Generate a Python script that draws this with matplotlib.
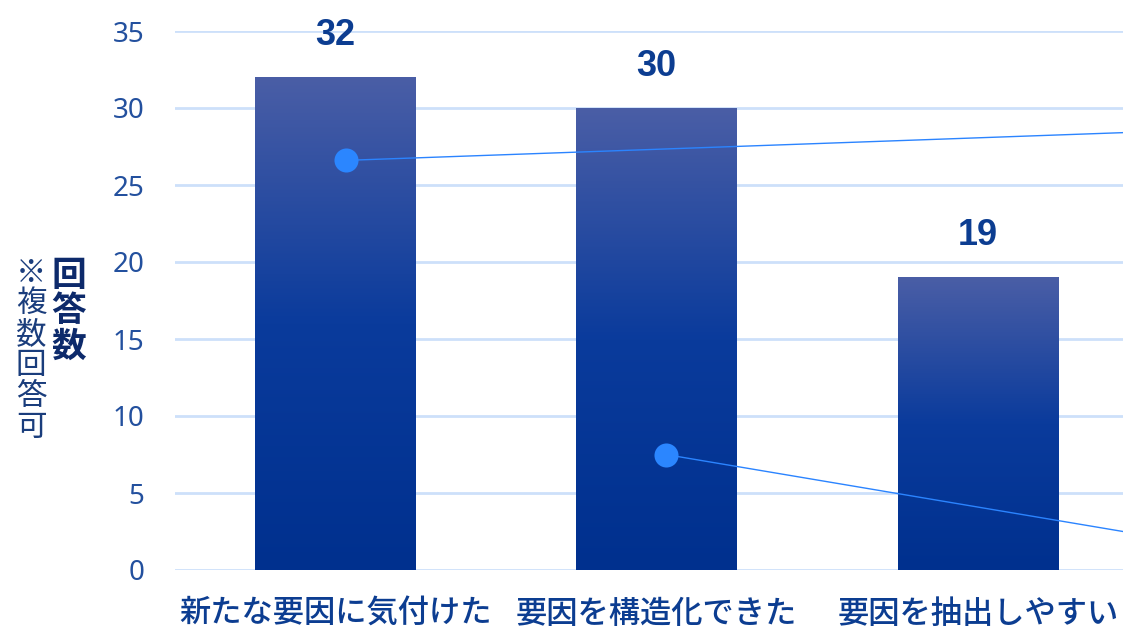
import numpy as np
import matplotlib
matplotlib.use("Agg")
import matplotlib.pyplot as plt
from matplotlib.colors import LinearSegmentedColormap

plt.rcParams['font.family'] = ['Noto Sans CJK JP', 'DejaVu Sans']

# data
categories = ['新たな要因に気付けた', '要因を構造化できた', '要因を抽出しやすい']
counts = [32, 30, 19]
yticks = [0, 5, 10, 15, 20, 25, 30, 35]

# leftover callout markers (dot position -> line end at right edge)
dot_x = [0.034, 1.028]
dot_y = [26.6, 7.5]
end_y = [28.4, 2.5]

tick_col = '#23509e'
text_col = '#0c3d91'

fig = plt.figure(figsize=(11.23, 6.33), dpi=100)
ax = fig.add_axes([175 / 1123, 1 - 570 / 633, (1123 - 175) / 1123, 539 / 633])

xmax = 2.452
ax.set_xlim(-0.5, xmax)
ax.set_ylim(0, 35)

cmap = LinearSegmentedColormap.from_list('bar', ['#00308e', '#0a3b9c', '#4a5ea6'])
grad = np.linspace(0, 1, 256).reshape(-1, 1)
w = 0.5
for i, v in enumerate(counts):
    ax.imshow(grad, extent=[i - w / 2, i + w / 2, 0, v], origin='lower',
              aspect='auto', cmap=cmap, zorder=2, interpolation='bicubic')
    ax.text(i, v + 2.7, str(v), ha='center', va='center', fontsize=26,
            fontweight='bold', color=text_col, zorder=4,
            family=['Liberation Sans', 'DejaVu Sans'])

for xd, yd, ye in zip(dot_x, dot_y, end_y):
    ax.plot([xd, xmax], [yd, ye], color='#2b84ff', lw=1, zorder=3, clip_on=False)
    ax.scatter([xd], [yd], s=300, color='#2b86ff', zorder=4, linewidths=0)

ax.set_yticks(yticks)
ax.set_xticks(range(len(categories)))
ax.set_xticklabels(categories, fontsize=22.5, color=text_col, fontweight='medium')
ax.tick_params(axis='y', length=0, pad=22, labelsize=20, labelcolor=tick_col)
ax.tick_params(axis='x', length=0, pad=20)
for lbl in ax.get_yticklabels():
    lbl.set_fontfamily(['Noto Sans', 'DejaVu Sans'])
ax.grid(axis='y', color='#cde0fa', lw=2)
ax.set_axisbelow(True)
for s in ax.spines.values():
    s.set_visible(False)

fig.text(69 / 1123, 1 - 311 / 633, '\n'.join('回答数'), ha='center', va='center',
         fontsize=25, fontweight='bold', color='#0d2a6b', linespacing=1.0)
fig.text(31 / 1123, 1 - 350 / 633, '\n'.join('※複数回答可'), ha='center', va='center',
         fontsize=22, color='#1a3d7c', linespacing=1.0)

fig.savefig('out.png', dpi=100)
